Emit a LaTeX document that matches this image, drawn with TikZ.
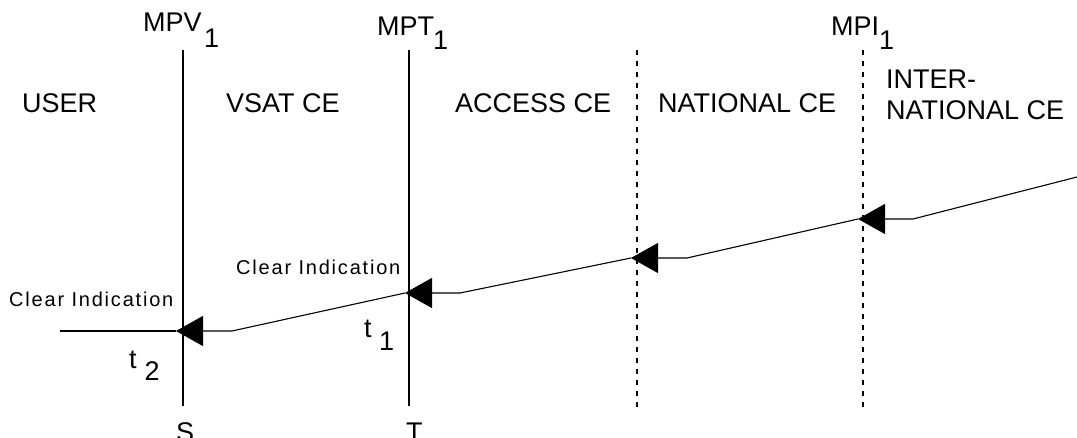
\documentclass[tikz,border=0pt]{standalone}
\usepackage{fontspec}
\setmainfont{Liberation Sans}
\newfontfamily\notefont[LetterSpace=9]{Liberation Sans}
\usetikzlibrary{arrows.meta}
% index set low, after a label
\newcommand{\lowix}[4]{#1\kern#2\raisebox{-#3}{#4}}
\tikzset{
  lbl/.style={font=\fontsize{27}{31}\selectfont, inner sep=0pt, anchor=base west},
  note/.style={font=\notefont\fontsize{20}{24}\selectfont, inner sep=0pt, anchor=base west},
  bound/.style={line width=1.2pt},
  cebound/.style={line width=1.2pt, dash pattern=on 5pt off 6pt},
  sig/.style={line width=1.1pt, -{Triangle[length=27pt,width=30pt]}}
}
\begin{document}
\begin{tikzpicture}[x=1pt, y=-1pt]
  \useasboundingbox (0,0) rectangle (1077,438);
  % the reference points and the boundaries between the CEs
  \coordinate (sTop) at (183,50);  \coordinate (sBot) at (183,406);
  \coordinate (tTop) at (409,50);  \coordinate (tBot) at (409,406);
  \coordinate (nTop) at (637,50);  \coordinate (nBot) at (637,408);
  \coordinate (iTop) at (863,50);  \coordinate (iBot) at (863,408);
  \draw[bound] (sTop) -- (sBot);
  \draw[bound] (tTop) -- (tBot);
  \draw[cebound] (nTop) -- (nBot);
  \draw[cebound] (iTop) -- (iBot);
  \node[lbl] (mpv) at (143,32) {\lowix{MPV}{2.5pt}{16pt}{1}};
  \node[lbl] (mpt) at (377,36) {\lowix{MPT}{-1pt}{14pt}{1}};
  \node[lbl] (mpi) at (831,36) {\lowix{MPI}{0pt}{14pt}{1}};
  \node[lbl] (refS) at (176,442) {S};
  \node[lbl] (refT) at (406,442) {T};
  % the names of the connection elements
  \node[lbl] (user) at (22,113) {USER};
  \node[lbl] (vsat) at (226,113) {VSAT CE};
  \node[lbl] (access) at (455,113) {ACCESS CE};
  \node[lbl] (national) at (658,113) {NATIONAL CE};
  \node[lbl] (inter) at (886,89) {INTER-};
  \node[lbl] (internat) at (886,120) {NATIONAL CE};
  % the clear indication, handed on from right to left
  \coordinate (in) at (1077,177);
  \coordinate (bI) at (913,219);  \coordinate (tI) at (858,219);
  \coordinate (bN) at (687,258);  \coordinate (tN) at (631,258);
  \coordinate (bT) at (460,293);  \coordinate (tT) at (405,293);
  \coordinate (bS) at (232,331);  \coordinate (tS) at (176,331);
  \coordinate (out) at (60,331);
  \draw[sig] (in) -- (bI) -- (tI);
  \draw[sig] (tI) -- (bN) -- (tN);
  \draw[sig] (tN) -- (bT) -- (tT);
  \draw[sig] (tT) -- (bS) -- (tS);
  \draw[line width=1.1pt] (tS) -- (out);
  \node[note] (clrT) at (236,275) {Clear Indication};
  \node[note] (clrS) at (9,307) {Clear Indication};
  \node[lbl] (t1) at (364,338) {\lowix{t}{7.5pt}{13pt}{1}};
  \node[lbl] (t2) at (129,369) {\lowix{t}{8pt}{12pt}{2}};
\end{tikzpicture}
\end{document}
